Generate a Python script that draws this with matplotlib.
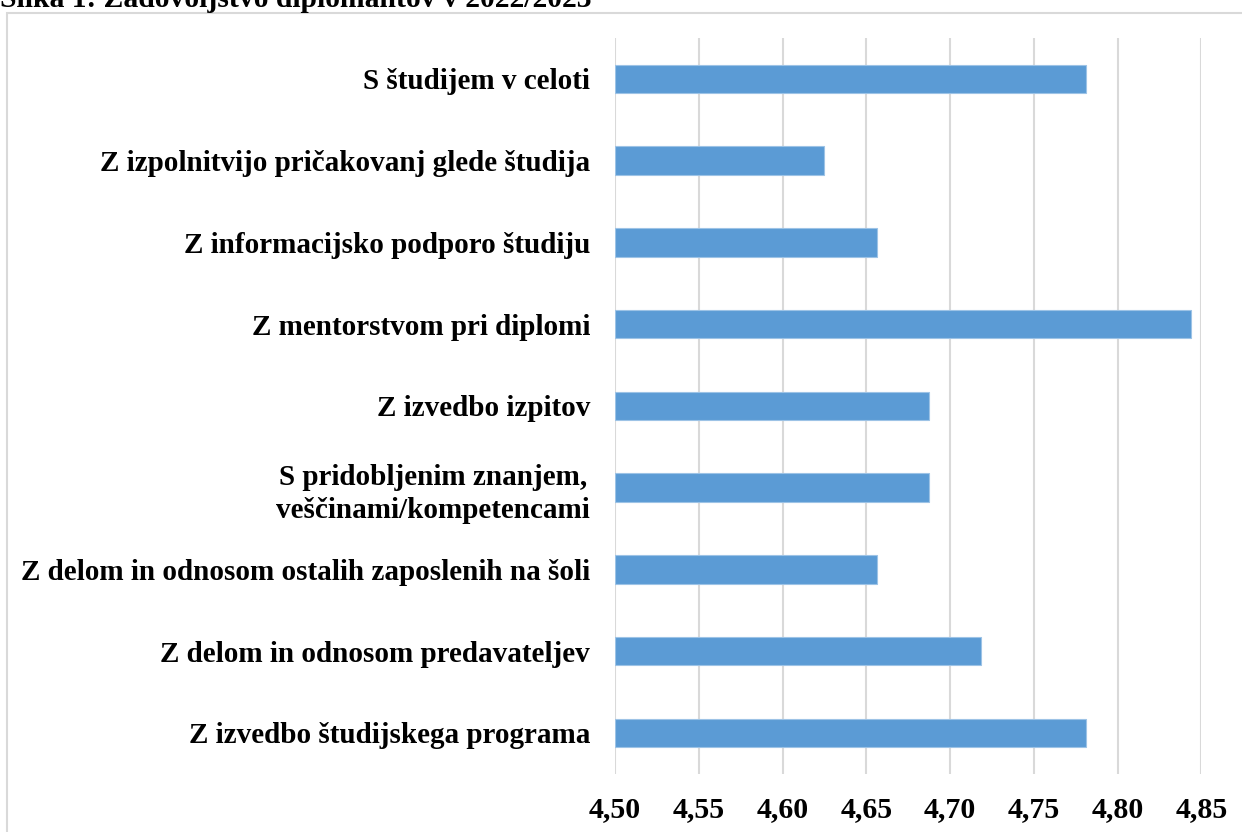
import matplotlib
matplotlib.use("Agg")
import matplotlib.pyplot as plt
from matplotlib.patches import Rectangle

categories = [
    "S študijem v celoti",
    "Z izpolnitvijo pričakovanj glede študija",
    "Z informacijsko podporo študiju",
    "Z mentorstvom pri diplomi",
    "Z izvedbo izpitov",
    "S pridobljenim znanjem,\nveščinami/kompetencami",
    "Z delom in odnosom ostalih zaposlenih na šoli",
    "Z delom in odnosom predavateljev",
    "Z izvedbo študijskega programa",
]
values = [4.78125, 4.625, 4.65625, 4.84375, 4.6875, 4.6875, 4.65625, 4.71875, 4.78125]
xticks = [4.50, 4.55, 4.60, 4.65, 4.70, 4.75, 4.80, 4.85]
xticklabels = ["4,50", "4,55", "4,60", "4,65", "4,70", "4,75", "4,80", "4,85"]
title = "Slika 1: Zadovoljstvo diplomantov v 2022/2023"

plt.rcParams['font.family'] = ['Liberation Serif', 'DejaVu Serif']

W, H = 1242, 832
fig = plt.figure(figsize=(W / 100, H / 100), dpi=100)
fig.patch.set_facecolor("white")

# chart-area border (light gray)
fig.add_artist(Rectangle((7 / W, -0.05), 1.2, 1 - 12.5 / H + 0.05,
                         transform=fig.transFigure, fill=False,
                         edgecolor="#D9D9D9", linewidth=1.5))

fig.text(0.0, 1 - 7 / H, title, ha="left", va="baseline",
         fontsize=21.3, fontweight="bold")

ax = fig.add_axes([615 / W, (H - 773.7) / H, (1201.3 - 615) / W, (773.7 - 38) / H])
ypos = list(range(len(categories)))
ax.barh(ypos, [v - 4.5 for v in values], left=4.5, height=0.35,
        color="#5B9BD5", edgecolor="#9DC3E6", linewidth=0.8, zorder=3)
ax.set_xlim(4.5, 4.85)
ax.set_ylim(len(categories) - 0.5, -0.5)
ax.set_xticks(xticks)
ax.set_xticklabels(xticklabels, fontsize=21.5, fontweight="bold")
ax.set_yticks(ypos)
ax.set_yticklabels(categories, fontsize=21, fontweight="bold", linespacing=1.3)
for lab in ax.get_yticklabels():
    lab.set_horizontalalignment("right")
    lab.set_multialignment("center")
ax.tick_params(axis="both", length=0)
ax.tick_params(axis="y", pad=18)
ax.tick_params(axis="x", pad=16)
ax.grid(axis="x", color="#D9D9D9", linewidth=1.5, zorder=0)
for s in ax.spines.values():
    s.set_visible(False)
ax.set_facecolor("none")

fig.savefig("out.png", dpi=100)
